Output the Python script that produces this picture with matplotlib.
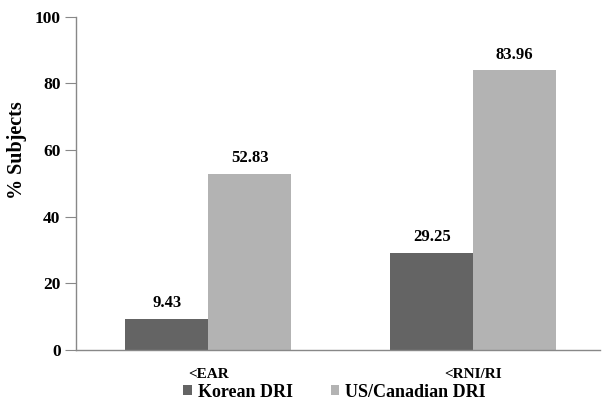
import matplotlib.pyplot as plt
import numpy as np

categories = ['<EAR', '<RNI/RI']
korean = [9.43, 29.25]
us_canadian = [52.83, 83.96]
series_names = ['Korean DRI', 'US/Canadian DRI']

plt.rcParams['font.family'] = ['Liberation Serif', 'DejaVu Serif']
plt.rcParams['font.weight'] = 'bold'

fig = plt.figure(figsize=(6.02, 4.03), dpi=100)
ax = fig.add_axes([0.126, 0.1315, 0.871, 0.827])

x = np.arange(len(categories))
w = 0.313
b1 = ax.bar(x - w / 2, korean, w, color='#646464', label=series_names[0])
b2 = ax.bar(x + w / 2, us_canadian, w, color='#b3b3b3', label=series_names[1])

for bars, vals in ((b1, korean), (b2, us_canadian)):
    for bar, v in zip(bars, vals):
        ax.text(bar.get_x() + bar.get_width() / 2, v + 2.3, f'{v:.2f}',
                ha='center', va='bottom', fontsize=12, fontweight='bold')

ax.set_xlim(-0.5, 1.48)
ax.set_ylim(0, 100)
ax.set_yticks(range(0, 101, 20))
ax.set_xticks(x)
ax.set_xticklabels(categories, fontsize=11, fontweight='bold')
ax.tick_params(axis='x', length=0, pad=13)
ax.tick_params(axis='y', length=8, color='#888888', labelsize=12.5, pad=3)
for lbl in ax.get_yticklabels():
    lbl.set_fontweight('bold')
ax.set_ylabel('% Subjects', fontsize=14.5, fontweight='bold')
ax.yaxis.set_label_coords(-0.094, 0.6)

for s in ['top', 'right']:
    ax.spines[s].set_visible(False)
for s in ['left', 'bottom']:
    ax.spines[s].set_color('#888888')
    ax.spines[s].set_linewidth(1.0)

leg = fig.legend(handles=[b1, b2], loc='center', ncol=2, frameon=False,
                 bbox_to_anchor=(0.556, 0.027), handlelength=0.45,
                 handleheight=0.45, handletextpad=0.35, columnspacing=2.1,
                 borderpad=0, prop={'weight': 'bold', 'size': 13})

fig.savefig('out.png', dpi=100)
